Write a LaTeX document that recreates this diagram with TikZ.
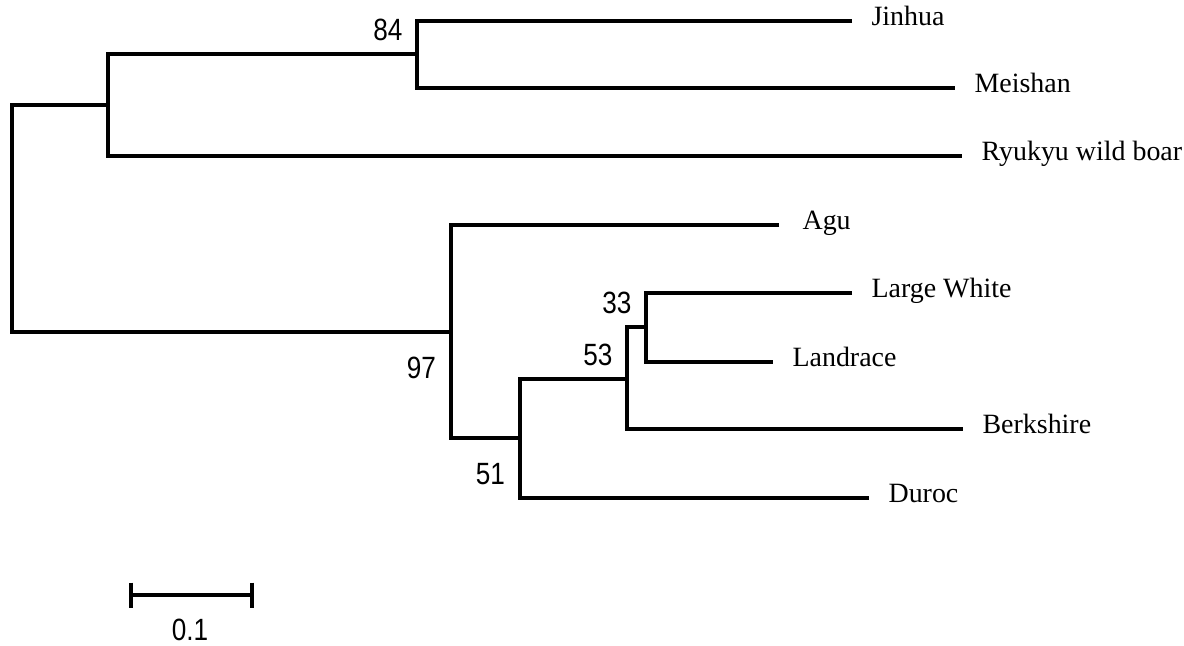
\documentclass[tikz,border=0pt]{standalone}
\usepackage{fontspec}
\setmainfont{Liberation Serif}
\newfontfamily\numfont[FakeStretch=0.85]{Liberation Sans}
\usepackage{tikz}
\usetikzlibrary{positioning}
\usetikzlibrary{calc}
\tikzset{every picture/.style={line width=1.8pt},
leaf/.style={inner sep=0pt, text height=0.38cm, text depth=0.2cm, font=\fontsize{15.9}{18}\selectfont, node distance=0.36cm},
supup/.style={inner sep=0pt, anchor=east, xshift=-0.26cm, yshift=0.48cm, font=\numfont\fontsize{17.5}{20}\selectfont},
supdown/.style={inner sep=0pt, anchor=east, xshift=-0.27cm, yshift=-0.72cm, font=\numfont\fontsize{17.5}{20}\selectfont}}

\begin{document}
\begin{tikzpicture}[x=0.02cm, y=-0.02cm]
\useasboundingbox (0,0) rectangle (1184,646);

\coordinate (root) at (12,332);
\coordinate (nA) at (108,105);
\coordinate (n84) at (417,54);
\coordinate (n97) at (451,332);
\coordinate (n51) at (520,438);
\coordinate (n53) at (627,379);
\coordinate (n33) at (646,327);

\coordinate (tj) at (852,21);
\coordinate (tm) at (955,88);
\coordinate (tr) at (962,156);
\coordinate (ta) at (779,225);
\coordinate (tw) at (852,293);
\coordinate (tl) at (773,362);
\coordinate (tb) at (963,429);
\coordinate (td) at (869,498);

\node (jinhua) [leaf, right=of tj] {Jinhua};
\node (meishan) [leaf, right=of tm] {Meishan};
\node (ryukyu) [leaf, right=of tr] {Ryukyu wild boar};
\node (agu) [leaf, right=0.44cm of ta] {Agu};
\node (white) [leaf, right=of tw] {Large White};
\node (landrace) [leaf, right=of tl] {Landrace};
\node (berkshire) [leaf, right=of tb] {Berkshire};
\node (duroc) [leaf, right=of td] {Duroc};

\draw [-] (tj) -| (n84) |- (tm);
\draw [-] (n84) -| (nA) |- (tr);
\draw [-] (nA) -| (root) |- (n97);
\draw [-] (ta) -| (n97) |- (n51);
\draw [-] (n53) -| (n51) |- (td);
\draw [-] (n33) -| (n53) |- (tb);
\draw [-] (tw) -| (n33) |- (tl);

\node (b84) at (n84) [supup] {84};
\node (b33) at (n33) [supup] {33};
\node (b53) at (n53) [supup] {53};
\node (b97) at (n97) [supdown] {97};
\node (b51) at (n51) [supdown] {51};

\coordinate (sL) at (131,595);
\coordinate (sR) at (252,595);
\draw [-] (sL) -- (sR);
\draw [-] ($(sL)+(0,-12.5)$) -- ($(sL)+(0,12.5)$);
\draw [-] ($(sR)+(0,-12.5)$) -- ($(sR)+(0,12.5)$);
\node (scale) at (190,630) [inner sep=0pt, font=\numfont\fontsize{17.5}{20}\selectfont] {0.1};
\end{tikzpicture}
\end{document}
